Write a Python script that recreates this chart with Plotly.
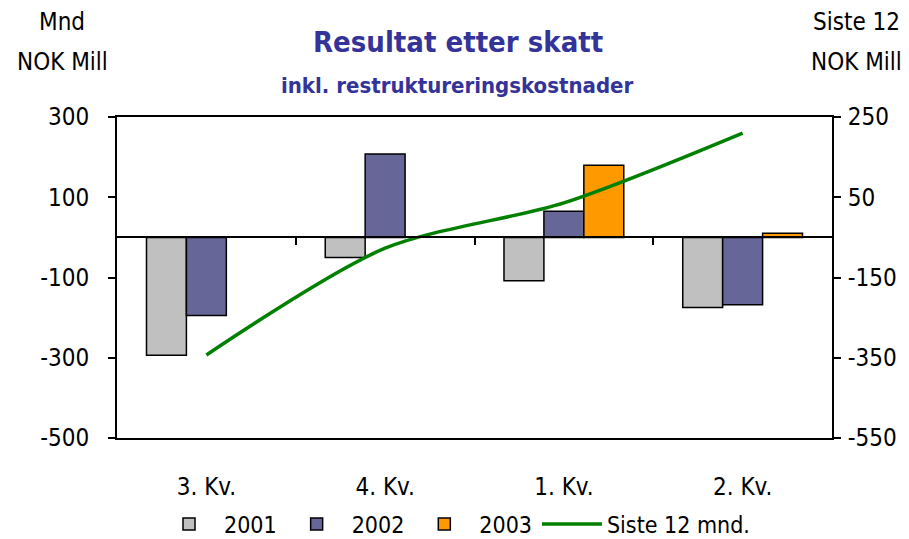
import plotly.graph_objects as go

categories = ["3. Kv.", "4. Kv.", "1. Kv.", "2. Kv."]
res_2001 = [-294, -50, -108, -175]
res_2002 = [-195, 208, 65, -168]
res_2003 = [None, None, 180, 10]
siste_12 = [-343, -77, 36, 210]

left_ticks = [-500, -300, -100, 100, 300]
right_ticks = [-550, -350, -150, 50, 250]

font_family = "DejaVu Sans Condensed, sans-serif"
outline = dict(color="black", width=1.5)
x_idx = list(range(len(categories)))

# figure / plot area in pixels
W, H = 909, 539
ML, MR, MT, MB = 117, 77, 117, 101
plot_w = W - ML - MR
plot_h = H - MT - MB


def px_to_paper(px, py):
    return (px - ML) / plot_w, 1 + (MT - py) / plot_h


fig = go.Figure()

fig.add_trace(go.Bar(x=x_idx, y=res_2001, name="2001",
                     marker=dict(color="#C0C0C0", line=outline)))
fig.add_trace(go.Bar(x=x_idx, y=res_2002, name="2002",
                     marker=dict(color="#666699", line=outline)))
fig.add_trace(go.Bar(x=x_idx, y=res_2003, name="2003",
                     marker=dict(color="#FF9900", line=outline)))
fig.add_trace(go.Scatter(x=x_idx, y=siste_12, name="Siste 12 mnd.",
                         mode="lines", yaxis="y2",
                         line=dict(color="#008000", width=3.5, shape="spline", smoothing=0.8)))

# category separators hanging off the zero line
fig.add_trace(go.Scatter(x=[0.5, 1.5, 2.5], y=[0, 0, 0], xaxis="x2", mode="markers",
                         marker=dict(size=0.1, color="rgba(0,0,0,0)"),
                         showlegend=False, hoverinfo="skip"))

headers = [
    ("<b>Resultat etter skatt</b>", 458, 42, dict(size=29, color="#333399")),
    ("<b>inkl. restruktureringskostnader</b>", 457, 85, dict(size=22, color="#333399")),
    ("Mnd", 62, 22, dict(size=24)),
    ("NOK Mill", 62, 62, dict(size=24)),
    ("Siste 12", 856, 22, dict(size=24)),
    ("NOK Mill", 856, 62, dict(size=24)),
]
annotations = []
for text, px, py, f in headers:
    ax, ay = px_to_paper(px, py)
    annotations.append(dict(text=text, x=ax, y=ay, xref="paper", yref="paper",
                            xanchor="center", yanchor="middle", showarrow=False, font=f))

fig.update_layout(
    width=W,
    height=H,
    margin=dict(l=ML, r=MR, t=MT, b=MB),
    plot_bgcolor="white",
    paper_bgcolor="white",
    barmode="group",
    bargap=0.33,
    bargroupgap=0,
    font=dict(family=font_family, size=24, color="black"),
    showlegend=True,
    legend=dict(orientation="h", x=0.5, xanchor="center", xref="container",
                y=(H - 524) / H, yanchor="middle", yref="container",
                font=dict(size=23), traceorder="normal",
                itemwidth=60, borderwidth=0, tracegroupgap=0),
    xaxis=dict(range=[-0.5, 3.5], tickvals=x_idx, ticktext=categories,
               showline=True, linecolor="black", linewidth=2, mirror=True,
               ticks="", ticklabelstandoff=26, showgrid=False, zeroline=False,
               automargin=False),
    xaxis2=dict(range=[-0.5, 3.5], overlaying="x", anchor="free", position=0.625,
                tickvals=[0.5, 1.5, 2.5], ticks="outside", ticklen=7, tickwidth=2,
                tickcolor="black", showticklabels=False, showline=True,
                linecolor="black", linewidth=2, showgrid=False, zeroline=False,
                automargin=False),
    yaxis=dict(range=[-500, 300], tickvals=left_ticks,
               ticktext=[str(v) for v in left_ticks],
               showline=True, linecolor="black", linewidth=2,
               ticks="outside", ticklen=7, tickwidth=2, tickcolor="black",
               ticklabelstandoff=14, showgrid=False, zeroline=False,
               automargin=False),
    yaxis2=dict(range=[-550, 250], tickvals=right_ticks,
                ticktext=[str(v) for v in right_ticks],
                overlaying="y", side="right", showline=True, linecolor="black",
                linewidth=2, ticks="outside", ticklen=7, tickwidth=2,
                tickcolor="black", ticklabelstandoff=2, showgrid=False, zeroline=False,
                automargin=False),
    annotations=annotations,
)

fig.write_html("out.html", config={"displayModeBar": False},
               post_script="document.body.style.margin='0';document.body.style.overflow='hidden';")
